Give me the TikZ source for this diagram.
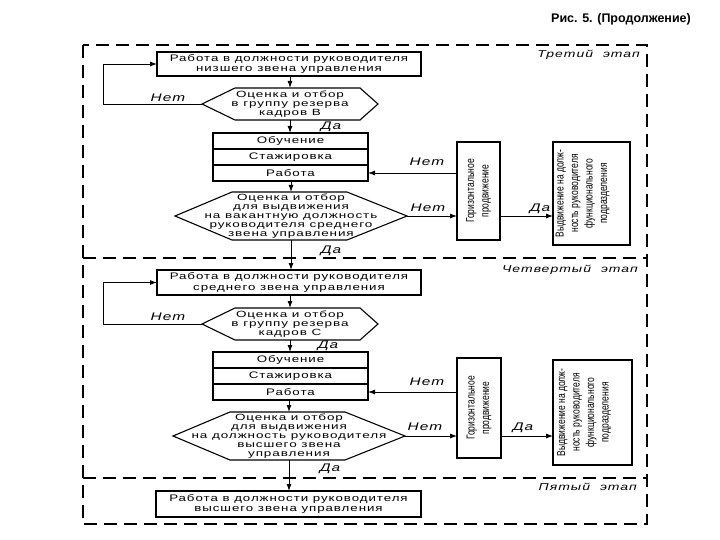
\documentclass[tikz,border=0pt]{standalone}
\usepackage{fontspec}
\setmainfont{Liberation Sans}
\newfontfamily\wf[FakeStretch=1.4,LetterSpace=10]{Liberation Sans}
\newfontfamily\hf[FakeStretch=1.5,LetterSpace=10]{Liberation Sans}
\newfontfamily\cf[FakeStretch=0.74]{Liberation Sans}
\usetikzlibrary{arrows.meta,calc}
\newcommand\rtext[1]{\rotatebox{90}{\cf\fontsize{11.5}{14.5}\selectfont\begin{tabular}{@{}c@{}}#1\end{tabular}}}
\newcommand\hexdraw[3]{\draw[hexline] (#1.west) -- ([xshift=#2]#1.north west) -- ([xshift=-#3]#1.north east) -- (#1.east) -- ([xshift=-#3]#1.south east) -- ([xshift=#2]#1.south west) -- cycle;}
\tikzset{
 boxn/.style={draw, line width=1.1pt, inner sep=0pt, outer sep=0pt, align=center, font=\wf\fontsize{9.5}{10.5}\selectfont},
 hexn/.style={inner sep=0pt, outer sep=0pt, align=center, font=\hf\fontsize{9}{9}\selectfont},
 hexline/.style={line width=1.1pt, line join=miter},
 rotbox/.style={draw, line width=1.1pt, inner sep=0pt, outer sep=0pt},
 arr/.style={line width=0.9pt, -{Latex[length=7pt,width=5pt]}},
 lab/.style={font=\wf\itshape\fontsize{11}{11}\selectfont, inner sep=0pt},
 stage/.style={font=\wf\itshape\fontsize{10}{10}\selectfont, inner sep=0pt, anchor=east},
 framest/.style={line width=1.1pt, dash pattern=on 13pt off 7pt},
}
\begin{document}
\begin{tikzpicture}[x=1pt,y=-1pt]
\useasboundingbox (0,0) rectangle (720,540);
% title
\node[font=\bfseries\fontsize{12.5}{12.5}\selectfont, inner sep=0pt] (title) at (621,19) {Рис. 5. (Продолжение)};
% frame
\draw[framest] (83,45) rectangle (647,524);
\draw[framest] (83,258) -- (647,258);
\draw[framest] (83,478) -- (647,478);
\node[stage] (st3) at (640,55) {Третий\quad этап};
\node[stage] (st4) at (638,270) {Четвертый\quad этап};
\node[stage] (st5) at (637,487) {Пятый\quad этап};

% ---------- stage 3
\node[boxn, minimum width=264, minimum height=24] (b1) at (289,64) {Работа в должности руководителя\\низшего звена управления};
\node[hexn, minimum width=176, minimum height=32] (h1) at (290,104) {Оценка и отбор\\в группу резерва\\кадров В};
\hexdraw{h1}{33}{18}
\node[boxn, minimum width=155, minimum height=16] (s1) at (290.5,141) {Обучение};
\node[boxn, minimum width=155, minimum height=16] (s2) at (290.5,157) {Стажировка};
\node[boxn, minimum width=155, minimum height=16] (s3) at (290.5,173) {Работа};
\node[hexn, minimum width=232, minimum height=48] (h2) at (291,216) {Оценка и отбор\\для выдвижения\\на вакантную должность\\руководителя среднего\\звена управления};
\hexdraw{h2}{57}{60}
\node[rotbox, minimum width=43, minimum height=98] (g1) at (478.5,191) {\rtext{Горизонтальное\\продвижение}};
\node[rotbox, minimum width=77, minimum height=103] (r1) at (591.5,193.5) {};
\node[inner sep=0pt] (r1t) at (582.5,193.5) {\rtext{Выдвижение на долж-\\ность руководителя\\функционального\\подразделения}};
\coordinate (L1) at (103,104);
\draw[arr] (h1.north |- b1.south) -- (h1.north);
\draw[arr] (h1.south) -- (h1.south |- s1.north);
\draw[arr] (s3.south -| h2.north) -- (h2.north);
\draw[arr] (h1.west) -- (h1.west -| L1) |- (b1.west);
\draw[arr] (s3.east -| g1.west) -- (s3.east);
\draw[arr] (h2.east) -- (h2.east -| g1.west);
\draw[arr] (h2.east -| g1.east) -- (h2.east -| r1.west);
\node[lab] (n1) at (168,98) {Нет};
\node[lab] (d1) at (331,127) {Да};
\node[lab] (n2) at (427,162) {Нет};
\node[lab] (n3) at (428,208) {Нет};
\node[lab] (d2) at (540,209) {Да};
\node[lab] (d3) at (331,251) {Да};

% ---------- stage 4
\node[boxn, minimum width=264, minimum height=25] (b3) at (289,282.5) {Работа в должности руководителя\\среднего звена управления};
\node[hexn, minimum width=176, minimum height=32] (h3) at (290,324) {Оценка и отбор\\в группу резерва\\кадров С};
\hexdraw{h3}{33}{18}
\node[boxn, minimum width=155, minimum height=16] (t1) at (290.5,360) {Обучение};
\node[boxn, minimum width=155, minimum height=16] (t2) at (290.5,376) {Стажировка};
\node[boxn, minimum width=155, minimum height=16] (t3) at (290.5,392) {Работа};
\node[hexn, minimum width=232, minimum height=48] (h4) at (289,436) {Оценка и отбор\\для выдвижения\\на должность руководителя\\высшего звена\\управления};
\hexdraw{h4}{57}{60}
\node[rotbox, minimum width=44, minimum height=100] (g2) at (479,408) {\rtext{Горизонтальное\\продвижение}};
\node[rotbox, minimum width=79, minimum height=105] (r2) at (592.5,412.5) {};
\node[inner sep=0pt] (r2t) at (584,412.5) {\rtext{Выдвижение на долж-\\ность руководителя\\функционального\\подразделения}};
\coordinate (L2) at (103,322);
\draw[arr] (h2.south) -- (h2.south |- b3.north);
\draw[arr] (h3.north |- b3.south) -- (h3.north);
\draw[arr] (h3.south) -- (h3.south |- t1.north);
\draw[arr] (t3.south -| h4.north) -- (h4.north);
\draw[arr] (h3.west) -- (h3.west -| L2) |- (b3.west);
\draw[arr] (t3.east -| g2.west) -- (t3.east);
\draw[arr] (h4.east) -- (h4.east -| g2.west);
\draw[arr] (h4.east -| g2.east) -- (h4.east -| r2.west);
\node[lab] (n4) at (168,317) {Нет};
\node[lab] (d4) at (328,346) {Да};
\node[lab] (n5) at (427,382) {Нет};
\node[lab] (n6) at (425,427) {Нет};
\node[lab] (d5) at (523,428) {Да};
\node[lab] (d6) at (330,469) {Да};

% ---------- stage 5
\node[boxn, minimum width=265, minimum height=26] (b5) at (288.5,504) {Работа в должности руководителя\\высшего звена управления};
\draw[arr] (h4.south) -- (h4.south |- b5.north);
\end{tikzpicture}
\end{document}
